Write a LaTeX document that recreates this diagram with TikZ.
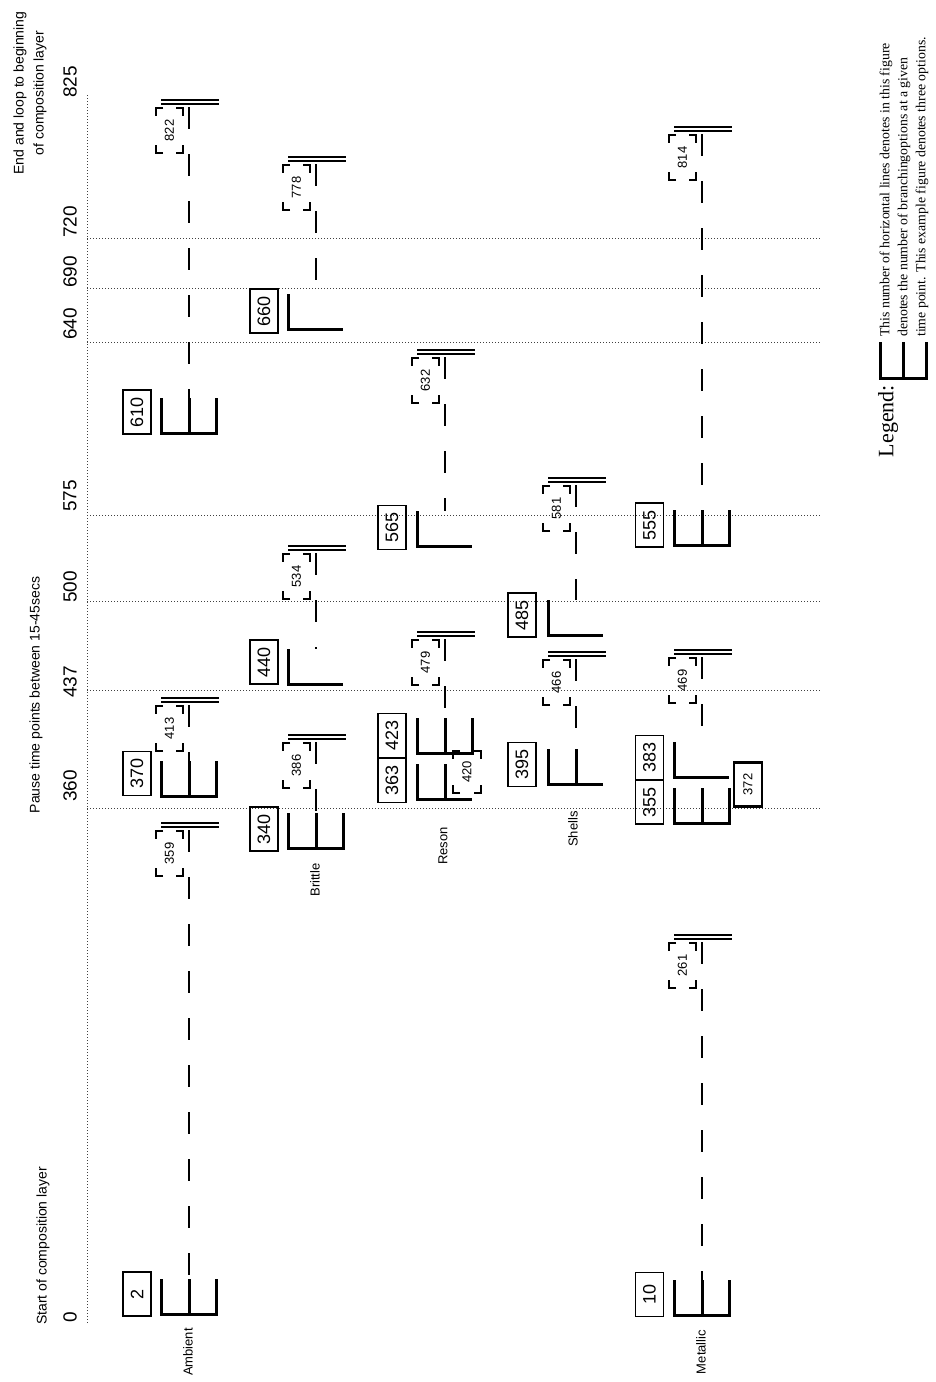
\documentclass[tikz,border=0pt]{standalone}
\usepackage{fontspec}
\setmainfont{Liberation Serif}
\newfontfamily\arial{Liberation Sans}
\tikzset{
 dotline/.style={line width=1pt, dash pattern=on 1.2pt off 1.8pt, black!75},
 dashline/.style={line width=1.8pt, dash pattern=on 22pt off 25pt},
 eline/.style={line width=3pt, line cap=butt, line join=miter},
 dbl/.style={line width=1.2pt},
 brk/.style={line width=1.4pt},
 nbox/.style={draw, line width=1.2pt, rotate=90, minimum width=44pt, minimum height=28pt, inner sep=0pt, font=\arial\fontsize{18}{18}\selectfont},
 mlab/.style={rotate=90, font=\arial\fontsize{13}{13}\selectfont, inner sep=0pt},
 tlab/.style={rotate=90, font=\arial\fontsize{19}{19}\selectfont, inner sep=0pt},
 hlab/.style={rotate=90, font=\arial\fontsize{14}{20}\selectfont, inner sep=0pt, align=center},
 trk/.style={rotate=90, font=\arial\fontsize{13}{13}\selectfont, inner sep=0pt},
 legtxt/.style={rotate=90, anchor=west, font=\fontsize{13.8}{14}\selectfont, inner sep=0pt},
}
\newcommand\EThree[2]{%
  \draw[eline] ({#1-28},{#2-35}) -- ({#1-28},{#2}) -- ({#1+27},{#2}) -- ({#1+27},{#2-35});
  \draw[eline] ({#1},{#2-35}) -- ({#1},{#2});}
\newcommand\ETwo[2]{%
  \draw[eline] ({#1-28},{#2-35}) -- ({#1-28},{#2}) -- ({#1+27},{#2});
  \draw[eline] ({#1},{#2-35}) -- ({#1},{#2});}
\newcommand\EOne[2]{%
  \draw[eline] ({#1-28},{#2-35}) -- ({#1-28},{#2}) -- ({#1+27},{#2});}
\newcommand\Brk[5]{%
  \draw[brk] ({#1+7},{#2}) -- ({#1},{#2}) -- ({#1},{#2+8});
  \draw[brk] ({#1+7},{#4}) -- ({#1},{#4}) -- ({#1},{#4-8});
  \draw[brk] ({#3-7},{#2}) -- ({#3},{#2}) -- ({#3},{#2+8});
  \draw[brk] ({#3-7},{#4}) -- ({#3},{#4}) -- ({#3},{#4-8});
  \node[mlab] (m#5) at ({(#1+#3)/2},{(#2+#4)/2}) {#5};}
\newcommand\MarkEnd[3]{%
  \draw[dbl] ({#1-28},{#2}) -- ({#1+30},{#2});
  \draw[dbl] ({#1-28},{#2+4}) -- ({#1+30},{#2+4});
  \Brk{#1-33}{#2+8}{#1-6}{#2+53}{#3}
  \coordinate (d#3) at ({#1},{#2+7});}
\begin{document}
\begin{tikzpicture}[x=1pt,y=-1pt]
\useasboundingbox (0,0) rectangle (936,1382);
\fill[white] (0,0) rectangle (936,1382);

% axis and time lines
\draw[dotline] (87,95) -- (87,1323);
\foreach \yy in {238,288,342,515,601,690,808}
  \draw[dotline] (87,\yy) -- (820,\yy);

% headings
\node[hlab] (hEnd) at (30,93) {End and loop to beginning\\of composition layer};
\node[hlab] (hPause) at (36,695) {Pause time points between 15-45secs};
\node[hlab] (hStart) at (43,1246) {Start of composition layer};

% time labels
\node[tlab] (t825) at (70,82) {825};
\node[tlab] (t720) at (70,222) {720};
\node[tlab] (t690) at (70,272) {690};
\node[tlab] (t640) at (70,324) {640};
\node[tlab] (t575) at (70,496) {575};
\node[tlab] (t500) at (70,587) {500};
\node[tlab] (t437) at (70,682) {437};
\node[tlab] (t360) at (70,786) {360};
\node[tlab] (t0) at (70,1317) {0};

% track labels
\node[trk] (lAmb) at (188,1352) {Ambient};
\node[trk] (lBri) at (315,880) {Brittle};
\node[trk] (lRes) at (443,846) {Reson};
\node[trk] (lShe) at (573,829) {Shells};
\node[trk] (lMet) at (701,1352) {Metallic};

% ---------- Ambient (c=189)
\node[nbox] (n2) at (137,1294) {2};
\EThree{189}{1314}
\coordinate (s2) at (189,1279);
\MarkEnd{189}{823}{359}
\draw[dashline] (d359) -- (s2);

\node[nbox] (n370) at (137,773.5) {370};
\EThree{189}{796}
\coordinate (s370) at (189,761);
\MarkEnd{189}{698}{413}
\draw[dashline] (d413) -- (s370);

\node[nbox] (n610) at (137,412) {610};
\EThree{189}{433}
\coordinate (s610) at (189,398);
\MarkEnd{189}{100}{822}
\draw[dashline] (d822) -- (s610);

% ---------- Brittle (c=316)
\node[nbox] (n340) at (264,829) {340};
\EThree{316}{848}
\coordinate (s340) at (316,813);
\MarkEnd{316}{735}{386}
\draw[dashline] (d386) -- (s340);

\node[nbox] (n440) at (264,662) {440};
\EOne{316}{684}
\coordinate (s440) at (316,649);
\MarkEnd{316}{546}{534}
\draw[dashline] (d534) -- (s440);

\node[nbox] (n660) at (264,311) {660};
\EOne{316}{329}
\coordinate (s660) at (316,294);
\MarkEnd{316}{157}{778}
\draw[dashline] (d778) -- (s660);

% ---------- Reson (c=445)
\node[nbox] (n363) at (392,780.5) {363};
\ETwo{445}{799}
\node[nbox] (n423) at (392,735.5) {423};
\EThree{445}{753}
\Brk{453}{751}{481}{793}{420}
\coordinate (s423) at (445,718);
\MarkEnd{445}{632}{479}
\draw[dashline] (d479) -- (s423);

\node[nbox] (n565) at (392,527.5) {565};
\EOne{445}{546}
\coordinate (s565) at (445,511);
\MarkEnd{445}{350}{632}
\draw[dashline] (d632) -- (s565);

% ---------- Shells (c=576)
\node[nbox] (n395) at (522,764.5) {395};
\ETwo{576}{784}
\coordinate (s395) at (576,749);
\MarkEnd{576}{652}{466}
\draw[dashline] (d466) -- (s395);

\node[nbox] (n485) at (522,615) {485};
\EOne{576}{635}
\coordinate (s485) at (576,600);
\MarkEnd{576}{478}{581}
\draw[dashline] (d581) -- (s485);

% ---------- Metallic (c=702)
\node[nbox] (n10) at (649.5,1294.5) {10};
\EThree{702}{1315}
\coordinate (s10) at (702,1280);
\MarkEnd{702}{935}{261}
\draw[dashline] (d261) -- (s10);

\node[nbox] (n355) at (649.5,802) {355};
\EThree{702}{823}
\node[nbox] (n383) at (649.5,757.5) {383};
\EOne{702}{777}
\node[nbox, line width=2.6pt, font=\arial\fontsize{13}{13}\selectfont] (n372) at (748,784.5) {372};
\coordinate (s383) at (702,742);
\MarkEnd{702}{650}{469}
\draw[dashline] (d469) -- (s383);

\node[nbox] (n555) at (649.5,525) {555};
\EThree{702}{545}
\coordinate (s555) at (702,510);
\MarkEnd{702}{127}{814}
\draw[dashline] (d814) -- (s555);

% ---------- Legend
\node[rotate=90, font=\fontsize{22}{22}\selectfont, inner sep=0pt] (leg) at (888,421) {Legend:};
\draw[eline] (880,342) -- (880,378) -- (926,378) -- (926,342);
\draw[eline] (903,342) -- (903,378);
\node[legtxt] (lg1) at (886,337) {This number of horizontal lines denotes in this figure};
\node[legtxt] (lg2) at (904,337) {denotes the number of branchingoptions at a given};
\node[legtxt] (lg3) at (922,337) {time point. This example figure denotes three options.};
\end{tikzpicture}
\end{document}
